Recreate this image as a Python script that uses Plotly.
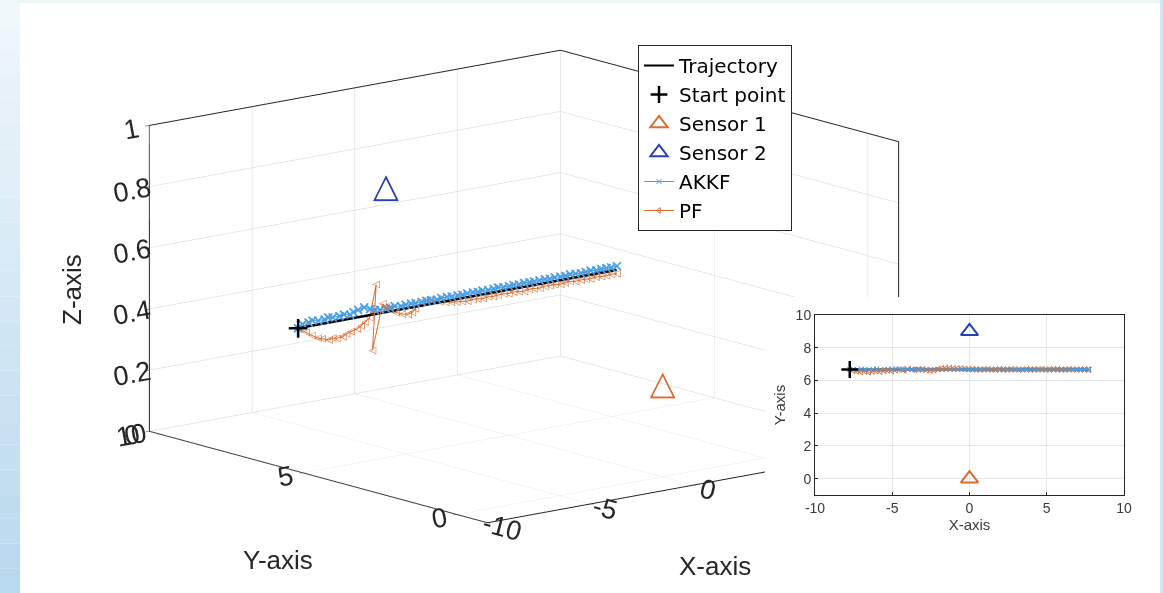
import plotly.graph_objects as go

# ---------------- data ----------------
# true trajectory (straight, constant height)
traj_x = [-7.75, 7.75]
traj_y = [6.67, 6.67]
traj_z = [0.4, 0.4]

start_x = [-7.75]
start_y = [6.67]
start_z = [0.4]

sensor1_x = [0.0]
sensor1_y = [0.0]
sensor1_z = [0.3]

sensor2_x = [0.0]
sensor2_y = [9.0]
sensor2_z = [0.7]

# AKKF estimates
akkf_x = [
    -7.75, -7.5, -7.25, -7.0, -6.75, -6.5, -6.25,
    -6.0, -5.75, -5.5, -5.25, -5.0, -4.75, -4.5,
    -4.25, -4.0, -3.75, -3.5, -3.25, -3.0, -2.75,
    -2.5, -2.25, -2.0, -1.75, -1.5, -1.25, -1.0,
    -0.75, -0.5, -0.25, 0.0, 0.25, 0.5, 0.75,
    1.0, 1.25, 1.5, 1.75, 2.0, 2.25, 2.5,
    2.75, 3.0, 3.25, 3.5, 3.75, 4.0, 4.25,
    4.5, 4.75, 5.0, 5.25, 5.5, 5.75, 6.0,
    6.25, 6.5, 6.75, 7.0, 7.25, 7.5, 7.75,
]
akkf_y = [
    6.67, 6.69, 6.66, 6.70, 6.68, 6.64, 6.69,
    6.71, 6.66, 6.68, 6.65, 6.70, 6.72, 6.69,
    6.66, 6.68, 6.67, 6.65, 6.69, 6.70, 6.66,
    6.68, 6.67, 6.69, 6.66, 6.67, 6.68, 6.66,
    6.69, 6.67, 6.68, 6.66, 6.67, 6.68, 6.66,
    6.67, 6.69, 6.67, 6.66, 6.68, 6.67, 6.66,
    6.68, 6.67, 6.67, 6.66, 6.68, 6.67, 6.66,
    6.67, 6.68, 6.66, 6.67, 6.68, 6.67, 6.66,
    6.67, 6.68, 6.66, 6.67, 6.67, 6.68, 6.66,
]
akkf_z = [
    0.400, 0.410, 0.413, 0.415, 0.412, 0.414, 0.416,
    0.413, 0.415, 0.417, 0.414, 0.418, 0.422, 0.428,
    0.420, 0.413, 0.411, 0.412, 0.411, 0.413, 0.411,
    0.412, 0.413, 0.411, 0.412, 0.413, 0.412, 0.411,
    0.412, 0.413, 0.411, 0.412, 0.411, 0.412, 0.413,
    0.411, 0.412, 0.411, 0.412, 0.413, 0.411, 0.412,
    0.412, 0.411, 0.413, 0.412, 0.411, 0.412, 0.413,
    0.411, 0.412, 0.412, 0.411, 0.413, 0.412, 0.411,
    0.412, 0.413, 0.411, 0.412, 0.412, 0.411, 0.413,
]

# PF estimates
pf_x = [
    -7.75, -7.5, -7.25, -7.0, -6.75, -6.5, -6.25,
    -6.0, -5.75, -5.5, -5.25, -5.0, -4.75, -4.5,
    -4.25, -3.9, -4.2, -3.65,
    -3.5, -3.25, -3.0, -2.75, -2.5, -2.25, -2.0,
    -1.75, -1.5, -1.25, -1.0, -0.75, -0.5, -0.25,
    0.0, 0.25, 0.5, 0.75, 1.0, 1.25, 1.5, 1.75,
    2.0, 2.25, 2.5, 2.75, 3.0, 3.25, 3.5, 3.75,
    4.0, 4.25, 4.5, 4.75, 5.0, 5.25, 5.5, 5.75,
    6.0, 6.25, 6.5, 6.75, 7.0, 7.25, 7.5, 7.75,
]
pf_y = [
    6.67, 6.58, 6.55, 6.52, 6.56, 6.50, 6.55,
    6.58, 6.54, 6.60, 6.62, 6.58, 6.63, 6.66,
    6.68, 6.70, 6.62, 6.66,
    6.66, 6.68, 6.66, 6.62, 6.60, 6.63, 6.70,
    6.74, 6.76, 6.75, 6.73, 6.74, 6.72, 6.70,
    6.69, 6.68, 6.67, 6.66, 6.68, 6.67, 6.66, 6.67,
    6.68, 6.66, 6.67, 6.68, 6.67, 6.66, 6.67, 6.68,
    6.66, 6.67, 6.67, 6.68, 6.66, 6.67, 6.68, 6.67,
    6.66, 6.67, 6.68, 6.67, 6.66, 6.67, 6.67, 6.66,
]
pf_z = [
    0.400, 0.386, 0.373, 0.363, 0.356, 0.351, 0.353,
    0.348, 0.351, 0.356, 0.360, 0.366, 0.372, 0.380,
    0.392, 0.495, 0.285, 0.430,
    0.418, 0.404, 0.393, 0.386, 0.383, 0.385, 0.392,
    0.404, 0.412, 0.410, 0.404, 0.398, 0.394, 0.392,
    0.390, 0.389, 0.387, 0.390, 0.388, 0.386, 0.389, 0.387,
    0.388, 0.390, 0.387, 0.389, 0.388, 0.386, 0.389, 0.388,
    0.387, 0.390, 0.388, 0.389, 0.387, 0.388, 0.390, 0.387,
    0.389, 0.388, 0.386, 0.389, 0.388, 0.387, 0.389, 0.388,
]

# axis ticks
x_ticks_3d = [-10, -5, 0, 5, 10]
x_tick_text_3d = ["-10", "-5", "0", "5", "10"]
y_ticks_3d = [0, 5, 10]
z_ticks_3d = [0, 0.2, 0.4, 0.6, 0.8, 1]
z_tick_text = ["0", "0.2", "0.4", "0.6", "0.8", "1"]
inset_x_ticks = [-10, -5, 0, 5, 10]
inset_x_text = ["-10", "-5", "0", "5", "10"]
inset_y_ticks = [0, 2, 4, 6, 8, 10]

# ---------------- style ----------------
FONT = "Liberation Sans"
TXT = "#262626"
BLACK = "#000000"
ORANGE = "#df6a2e"
DARKBLUE = "#2440b4"
AKKF_BLUE = "#4a9ee4"
GRID = "#d2d2d2"

W, H = 1163, 593

fig = go.Figure()

# ---------------- 3-D view ----------------
fig.add_trace(go.Scatter3d(
    x=traj_x, y=traj_y, z=traj_z, mode="lines",
    line=dict(color=BLACK, width=5), showlegend=False, hoverinfo="skip"))
fig.add_trace(go.Scatter3d(
    x=akkf_x, y=akkf_y, z=akkf_z, mode="lines+markers",
    line=dict(color=AKKF_BLUE, width=2),
    marker=dict(symbol="x", size=2, color=AKKF_BLUE),
    showlegend=False, hoverinfo="skip"))
fig.add_trace(go.Scatter3d(
    x=pf_x, y=pf_y, z=pf_z, mode="lines+text",
    text=["\u25c1"] * len(pf_x), textposition="middle center",
    textfont=dict(family="DejaVu Sans", size=10, color=ORANGE),
    line=dict(color=ORANGE, width=2),
    showlegend=False, hoverinfo="skip"))
fig.add_trace(go.Scatter3d(
    x=start_x, y=start_y, z=start_z, mode="text", text=["+"],
    textposition="middle center",
    textfont=dict(family="DejaVu Sans", size=30, color=BLACK),
    showlegend=False, hoverinfo="skip"))
fig.add_trace(go.Scatter3d(
    x=sensor1_x, y=sensor1_y, z=sensor1_z, mode="text", text=["\u25b3"],
    textposition="middle center",
    textfont=dict(family="DejaVu Sans", size=34, color=ORANGE),
    showlegend=False, hoverinfo="skip"))
fig.add_trace(go.Scatter3d(
    x=sensor2_x, y=sensor2_y, z=sensor2_z, mode="text", text=["\u25b3"],
    textposition="middle center",
    textfont=dict(family="DejaVu Sans", size=34, color=DARKBLUE),
    showlegend=False, hoverinfo="skip"))

axis3d = dict(
    showgrid=True, gridcolor=GRID, gridwidth=1,
    showline=True, linecolor="#222222", linewidth=2, mirror=True,
    zeroline=False, showbackground=False, showspikes=False,
    ticks="outside", ticklen=5, tickcolor="#333333",
    tickfont=dict(family=FONT, size=18, color=TXT),
    title=dict(text=""),
)

# viewing direction (azimuth ~230.6 deg, elevation ~12.9 deg)
d = 3.0
fig.update_layout(scene=dict(
    domain=dict(x=[0.0, 0.9012], y=[0.0338, 1.0]),
    aspectmode="manual",
    aspectratio=dict(x=1.858, y=1.858, z=1.095),
    camera=dict(
        eye=dict(x=-0.6193 * d, y=-0.7530 * d, z=0.2225 * d),
        up=dict(x=0, y=0, z=1), center=dict(x=0, y=0, z=0),
        projection=dict(type="orthographic")),
    xaxis=dict(axis3d, range=[-10, 10], tickvals=x_ticks_3d, ticktext=x_tick_text_3d),
    yaxis=dict(axis3d, range=[-1, 10], tickvals=y_ticks_3d),
    zaxis=dict(axis3d, range=[0, 1], tickvals=z_ticks_3d, ticktext=z_tick_text),
    bgcolor="rgba(0,0,0,0)",
))

# ---------------- 2-D inset (top view) ----------------
fig.add_trace(go.Scatter(
    x=traj_x, y=traj_y, mode="lines", name="Trajectory",
    line=dict(color=BLACK, width=2), legendrank=1, hoverinfo="skip"))
fig.add_trace(go.Scatter(
    x=pf_x, y=pf_y, mode="lines+markers", name="PF",
    line=dict(color=ORANGE, width=1),
    marker=dict(symbol="triangle-left-open", size=5, color=ORANGE, line=dict(width=1)),
    legendrank=6, hoverinfo="skip"))
fig.add_trace(go.Scatter(
    x=akkf_x, y=akkf_y, mode="lines+markers", name="AKKF",
    line=dict(color=AKKF_BLUE, width=1),
    marker=dict(symbol="x-thin-open", size=5, color=AKKF_BLUE, line=dict(width=1, color=AKKF_BLUE)),
    legendrank=5, hoverinfo="skip"))
fig.add_trace(go.Scatter(
    x=start_x, y=start_y, mode="markers", name="Start point",
    marker=dict(symbol="cross-thin-open", size=12, color=BLACK, line=dict(width=2.5, color=BLACK)),
    legendrank=2, hoverinfo="skip"))
fig.add_trace(go.Scatter(
    x=sensor1_x, y=sensor1_y, mode="markers", name="Sensor 1",
    marker=dict(symbol="triangle-up-open", size=15, color=ORANGE, line=dict(width=2, color=ORANGE)),
    legendrank=3, hoverinfo="skip"))
fig.add_trace(go.Scatter(
    x=sensor2_x, y=sensor2_y, mode="markers", name="Sensor 2",
    marker=dict(symbol="triangle-up-open", size=15, color=DARKBLUE, line=dict(width=2, color=DARKBLUE)),
    legendrank=4, hoverinfo="skip"))

inset_axis = dict(
    showgrid=True, gridcolor="#e6e6e6", gridwidth=1, zeroline=False,
    showline=True, linecolor=TXT, linewidth=1, mirror=True,
    ticks="inside", ticklen=3, tickcolor=TXT, automargin=False,
    tickfont=dict(family=FONT, size=14, color="#3a3a3a"),
)
fig.update_layout(
    xaxis=dict(inset_axis, domain=[815 / W, 1124 / W], range=[-10, 10],
               tickvals=inset_x_ticks, ticktext=inset_x_text, anchor="y",
               title=dict(text="X-axis", font=dict(family=FONT, size=15, color="#3a3a3a"), standoff=2)),
    yaxis=dict(inset_axis, domain=[(H - 495) / H, (H - 315) / H], range=[-1, 10],
               tickvals=inset_y_ticks, anchor="x",
               title=dict(text="Y-axis", font=dict(family=FONT, size=15, color="#3a3a3a"), standoff=6)),
    plot_bgcolor="white",
)

# ---------------- page decoration ----------------
shapes = []
# soft blue band on the left edge, lighter towards the top
n_bands = 24
for i in range(n_bands):
    t = i / (n_bands - 1)
    r = int(round(0xef + (0xb9 - 0xef) * t))
    g = int(round(0xf7 + (0xd9 - 0xf7) * t))
    b = int(round(0xfa + (0xef - 0xfa) * t))
    shapes.append(dict(type="rect", xref="paper", yref="paper", layer="below",
                       x0=0, x1=20 / W, y0=1 - (i + 1) / n_bands, y1=1 - i / n_bands,
                       fillcolor=f"rgb({r},{g},{b})", line=dict(width=0)))
shapes.append(dict(type="rect", xref="paper", yref="paper", layer="below",
                   x0=0, x1=1, y0=1 - 3 / H, y1=1,
                   fillcolor="#eef7f8", line=dict(width=0)))
shapes.append(dict(type="rect", xref="paper", yref="paper", layer="below",
                   x0=1160 / W, x1=1, y0=0, y1=1,
                   fillcolor="#d3e6f1", line=dict(width=0)))
# white panel carrying the inset
shapes.append(dict(type="rect", xref="paper", yref="paper", layer="below",
                   x0=765 / W, x1=1160 / W, y0=(H - 552) / H, y1=(H - 297) / H,
                   fillcolor="white", line=dict(width=0)))

annotations = [
    dict(text="Z-axis", x=72 / W, y=1 - 290 / H, xref="paper", yref="paper",
         xanchor="center", yanchor="middle",
         showarrow=False, textangle=-90, font=dict(family=FONT, size=26, color=TXT)),
    dict(text="Y-axis", x=278 / W, y=1 - 560 / H, xref="paper", yref="paper",
         xanchor="center", yanchor="middle",
         showarrow=False, font=dict(family=FONT, size=26, color=TXT)),
    dict(text="X-axis", x=715 / W, y=1 - 566 / H, xref="paper", yref="paper",
         xanchor="center", yanchor="middle",
         showarrow=False, font=dict(family=FONT, size=26, color=TXT)),
]

fig.update_layout(
    width=W, height=H, autosize=False,
    margin=dict(l=0, r=0, t=0, b=0, pad=0, autoexpand=False),
    paper_bgcolor="rgba(0,0,0,0)",
    shapes=shapes, annotations=annotations,
    hovermode=False,
    legend=dict(
        x=638 / W, y=1 - 45 / H, xanchor="left", yanchor="top",
        bgcolor="white", bordercolor=TXT, borderwidth=1,
        font=dict(family="DejaVu Sans", size=20, color=BLACK),
        itemwidth=30, tracegroupgap=0,
    ),
)

# keep the inset panel above the WebGL scene so it hides the box behind it
post_js = """
var gd = document.getElementById('{plot_id}');
function sinkScene() {
  var gl = gd.querySelector('.gl-container');
  var paper = gd.querySelector('.main-svg');
  if (gl && paper && paper.parentNode === gl.parentNode && gl.nextSibling !== paper) {
    paper.parentNode.insertBefore(gl, paper);
  }
}
sinkScene();
if (gd.on) { gd.on('plotly_afterplot', sinkScene); }
setTimeout(sinkScene, 100);
"""

fig.write_html("out.html", config={"displayModeBar": False}, post_script=post_js)
